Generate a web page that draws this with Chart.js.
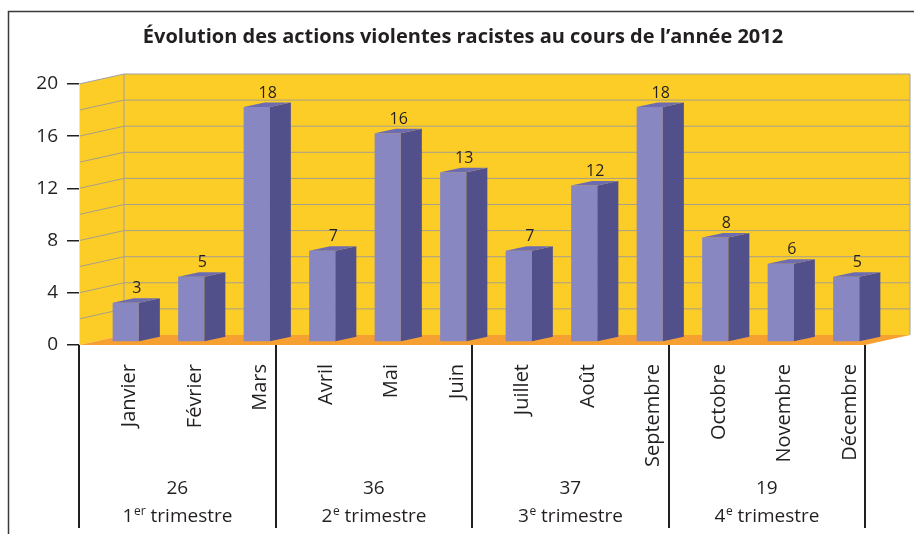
<!DOCTYPE html>
<html><head><meta charset="utf-8">
<script src="https://cdn.jsdelivr.net/npm/chart.js@4"></script>
<style>html,body{margin:0;padding:0;background:#fff}canvas{display:block}</style>
</head><body>
<canvas id="c" width="914" height="534"></canvas>
<script>
const chartTitle = 'Évolution des actions violentes racistes au cours de l’année 2012';
const months = ['Janvier','Février','Mars','Avril','Mai','Juin','Juillet','Août','Septembre','Octobre','Novembre','Décembre'];
const values = [3,5,18,7,16,13,7,12,18,8,6,5];
const quarterTotals = ['26','36','37','19'];
const quarterNumbers = ['1','2','3','4'];
const quarterSuffixes = ['er','e','e','e'];
const quarterWord = ' trimestre';
const yMin = 0, yMax = 20, yStep = 4, wallStep = 2;

const FONT = "'Open Sans', 'Noto Sans', sans-serif";
const TXT = '#231f20';
const YELLOW = '#fdcd27', ORANGE = '#f6a032', GRID = '#a59f8e', EDGE = '#a0a0a0';
const FRONT = '#8987c1', SIDE = '#52508a', TOP = '#6e6cb1';
const DX = 45, DY = -10;      // wall depth
const BX = 14, BY = -3;       // bar position inside depth
const SX = 21, SY = -4.5;     // bar depth

function poly(ctx, pts, fill, stroke) {
  ctx.beginPath();
  ctx.moveTo(pts[0][0], pts[0][1]);
  for (let i = 1; i < pts.length; i++) ctx.lineTo(pts[i][0], pts[i][1]);
  ctx.closePath();
  if (fill) { ctx.fillStyle = fill; ctx.fill(); }
  if (stroke) { ctx.strokeStyle = stroke; ctx.stroke(); }
}

const threeD = {
  id: 'threeD',
  beforeDatasetsDraw(chart) {
    const ctx = chart.ctx, xs = chart.scales.x, ys = chart.scales.y;
    const L = xs.left, R = xs.right;
    const y0 = ys.getPixelForValue(yMin), yT = ys.getPixelForValue(yMax);
    ctx.save();
    ctx.fillStyle = YELLOW;
    ctx.fillRect(L + DX, yT + DY, R - L, y0 - yT);
    poly(ctx, [[L, yT], [L + DX, yT + DY], [L + DX, y0 + DY], [L, y0]], YELLOW);
    ctx.lineWidth = 1; ctx.strokeStyle = GRID;
    for (let v = yMin + wallStep; v < yMax; v += wallStep) {
      const y = ys.getPixelForValue(v);
      ctx.beginPath();
      ctx.moveTo(L, y); ctx.lineTo(L + DX, y + DY); ctx.lineTo(R + DX, y + DY);
      ctx.stroke();
    }
    poly(ctx, [[L, y0], [R, y0], [R + DX, y0 + DY], [L + DX, y0 + DY]], ORANGE);
    ctx.strokeStyle = EDGE; ctx.lineWidth = 1;
    ctx.beginPath();
    ctx.moveTo(L, yT); ctx.lineTo(L + DX, yT + DY); ctx.lineTo(R + DX, yT + DY); ctx.lineTo(R + DX, y0 + DY);
    ctx.moveTo(L + DX, yT + DY); ctx.lineTo(L + DX, y0 + DY);
    ctx.stroke();
    ctx.strokeStyle = '#f3e6b0';
    ctx.beginPath(); ctx.moveTo(L + 0.5, yT); ctx.lineTo(L + 0.5, y0); ctx.stroke();
    ctx.restore();
    ctx.save();
    ctx.translate(BX, BY);
  },
  afterDatasetsDraw(chart) {
    const ctx = chart.ctx;
    const meta = chart.getDatasetMeta(0);
    meta.data.forEach((el, i) => {
      const p = el.getProps(['x', 'y', 'base', 'width'], true);
      const x0 = p.x - p.width / 2, x1 = p.x + p.width / 2;
      poly(ctx, [[x1, p.y], [x1 + SX, p.y + SY], [x1 + SX, p.base + SY], [x1, p.base]], SIDE);
      poly(ctx, [[x0, p.y], [x1, p.y], [x1 + SX, p.y + SY], [x0 + SX, p.y + SY]], TOP);
      ctx.fillStyle = TXT;
      ctx.font = '16px ' + FONT;
      ctx.textAlign = 'center';
      ctx.textBaseline = 'middle';
      ctx.fillText(String(values[i]), p.x + 11, p.y - 14);
    });
    ctx.restore();
  },
  afterDraw(chart) {
    const ctx = chart.ctx, xs = chart.scales.x, ys = chart.scales.y;
    const y0 = ys.getPixelForValue(yMin);
    const step = xs.getPixelForValue(1) - xs.getPixelForValue(0);
    ctx.save();
    ctx.strokeStyle = TXT; ctx.lineWidth = 2;
    for (let q = 0; q <= quarterTotals.length; q++) {
      const x = Math.round(xs.getPixelForValue(q * 3) - step / 2);
      ctx.beginPath(); ctx.moveTo(x, y0); ctx.lineTo(x, y0 + 183); ctx.stroke();
    }
    ctx.fillStyle = TXT; ctx.textBaseline = 'middle';
    for (let q = 0; q < quarterTotals.length; q++) {
      const cx = (xs.getPixelForValue(q * 3) + xs.getPixelForValue(q * 3 + 2)) / 2;
      ctx.font = '19px ' + FONT; ctx.textAlign = 'center';
      ctx.fillText(quarterTotals[q], cx, y0 + 144);
      const big = '19px ' + FONT, small = '12px ' + FONT;
      ctx.font = big; const wn = ctx.measureText(quarterNumbers[q]).width;
      const ww = ctx.measureText(quarterWord).width;
      ctx.font = small; const ws = ctx.measureText(quarterSuffixes[q]).width;
      let x = cx - (wn + ws + ww) / 2;
      const yy = y0 + 172;
      ctx.textAlign = 'left';
      ctx.font = big; ctx.fillText(quarterNumbers[q], x, yy); x += wn;
      ctx.font = small; ctx.fillText(quarterSuffixes[q], x + 0.5, yy - 5); x += ws + 0.5;
      ctx.font = big; ctx.fillText(quarterWord, x, yy);
    }
    ctx.strokeStyle = '#3a3a3a'; ctx.lineWidth = 1.5;
    ctx.beginPath(); ctx.moveTo(8.5, 534); ctx.lineTo(8.5, 11.5); ctx.lineTo(914, 11.5); ctx.stroke();
    ctx.restore();
  }
};

new Chart(document.getElementById('c'), {
  type: 'bar',
  data: {
    labels: months,
    datasets: [{
      data: values,
      backgroundColor: FRONT,
      borderWidth: 0,
      categoryPercentage: 1,
      barPercentage: 0.4,
      clip: false
    }]
  },
  options: {
    responsive: false,
    animation: false,
    devicePixelRatio: 1,
    layout: { padding: { left: 12, right: 0, top: 0, bottom: 0 } },
    plugins: {
      legend: { display: false },
      tooltip: { enabled: false },
      title: {
        display: true,
        text: chartTitle,
        color: TXT,
        font: { family: FONT, size: 20, weight: 'bold' },
        padding: { top: 25, bottom: 35 }
      }
    },
    scales: {
      x: {
        grid: { display: false, drawTicks: false },
        border: { display: false },
        ticks: {
          autoSkip: false, minRotation: 90, maxRotation: 90,
          padding: 19, labelOffset: 18,
          color: TXT, font: { family: FONT, size: 20 }
        },
        afterFit(s) { s.height = 189; }
      },
      y: {
        min: yMin, max: yMax,
        grid: { drawOnChartArea: false, drawTicks: true, tickLength: 12, color: TXT, lineWidth: 1.5 },
        border: { display: false },
        ticks: { stepSize: yStep, padding: 9, color: TXT, font: { family: FONT, size: 19 } },
        afterFit(s) { s.width = 67; }
      },
      yDepth: {
        position: 'right',
        display: true,
        grid: { display: false, drawTicks: false },
        border: { display: false },
        ticks: { display: false },
        afterFit(s) { s.width = 49; }
      }
    }
  },
  plugins: [threeD]
});
</script>
</body></html>
